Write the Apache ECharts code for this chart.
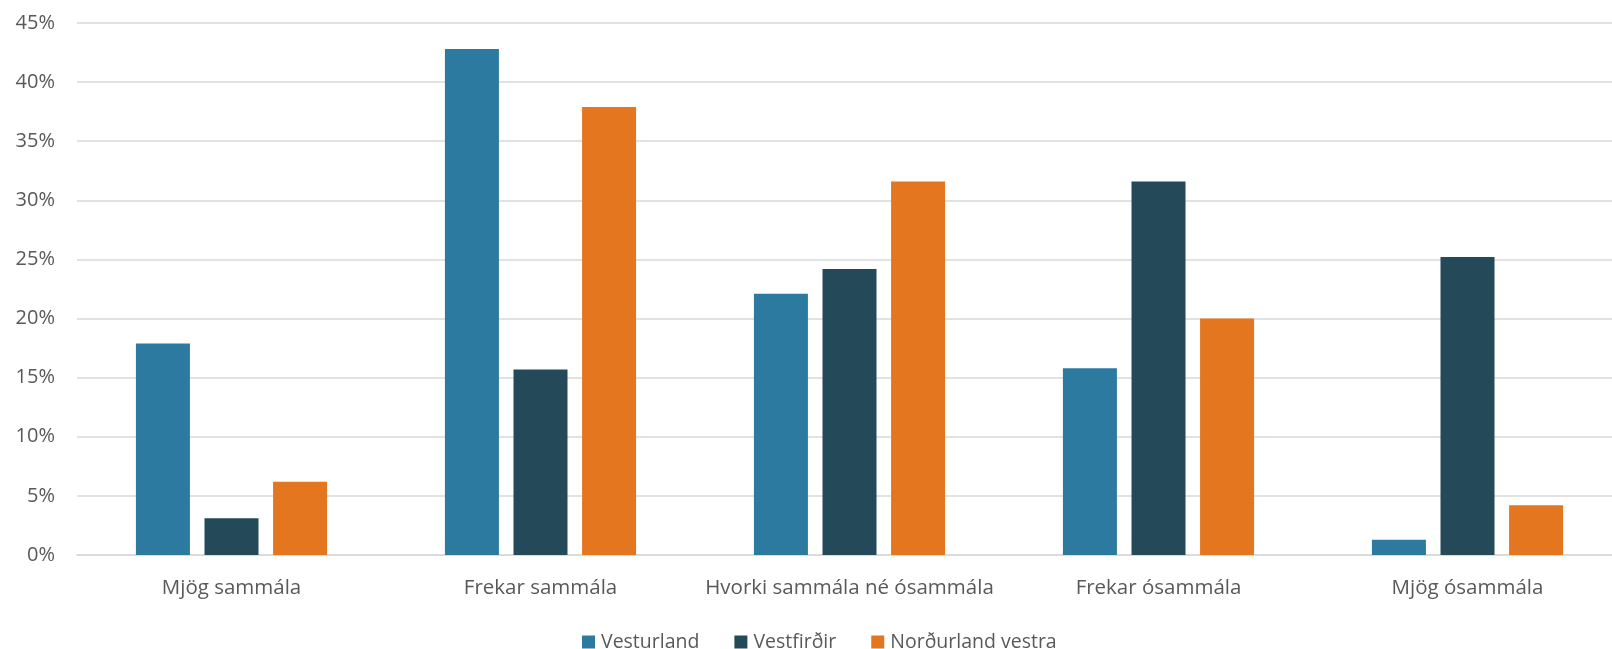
<!DOCTYPE html>
<html>
<head>
<meta charset="utf-8">
<script src="https://cdn.jsdelivr.net/npm/echarts@6/dist/echarts.min.js"></script>
<style>html,body{margin:0;padding:0;background:#fff}#c{width:1612px;height:649px}</style>
</head>
<body>
<div id="c"></div>
<script>
const categories = ['Mjög sammála', 'Frekar sammála', 'Hvorki sammála né ósammála', 'Frekar ósammála', 'Mjög ósammála'];
const seriesNames = ['Vesturland', 'Vestfirðir', 'Norðurland vestra'];
const vesturland = [17.9, 42.8, 22.1, 15.8, 1.3];
const vestfirdir = [3.1, 15.7, 24.2, 31.6, 25.2];
const nordurlandVestra = [6.2, 37.9, 31.6, 20.0, 4.2];
const colors = ['#2C7AA0', '#244A59', '#E3761F'];

const font = '"Open Sans", "Liberation Sans", sans-serif';
const chart = echarts.init(document.getElementById('c'), null, {renderer: 'canvas'});
const data = [vesturland, vestfirdir, nordurlandVestra];
chart.setOption({
  animation: false,
  color: colors,
  grid: {left: 77, width: 1545, top: 23, bottom: 94, containLabel: false, outerBoundsMode: 'none'},
  legend: {
    data: seriesNames,
    top: 627,
    left: 577,
    itemWidth: 13,
    itemHeight: 13,
    itemGap: 35,
    icon: 'rect',
    textStyle: {fontFamily: font, fontSize: 19.5, color: '#595959', padding: [0, 0, 0, 1]}
  },
  xAxis: {
    type: 'category',
    data: categories,
    axisLine: {lineStyle: {color: '#D9D9D9', width: 1.5}},
    axisTick: {show: false},
    axisLabel: {fontFamily: font, fontSize: 20.5, color: '#595959', margin: 23, interval: 0}
  },
  yAxis: {
    type: 'value',
    min: 0, max: 45, interval: 5,
    axisLine: {show: false},
    axisTick: {show: false},
    splitLine: {lineStyle: {color: '#D9D9D9', width: 1.5}},
    axisLabel: {fontFamily: font, fontSize: 20, color: '#595959', margin: 22, formatter: '{value}%'}
  },
  series: seriesNames.map((n, i) => ({
    name: n,
    type: 'bar',
    data: data[i],
    barWidth: 54,
    barGap: '27%'
  }))
});
</script>
</body>
</html>
